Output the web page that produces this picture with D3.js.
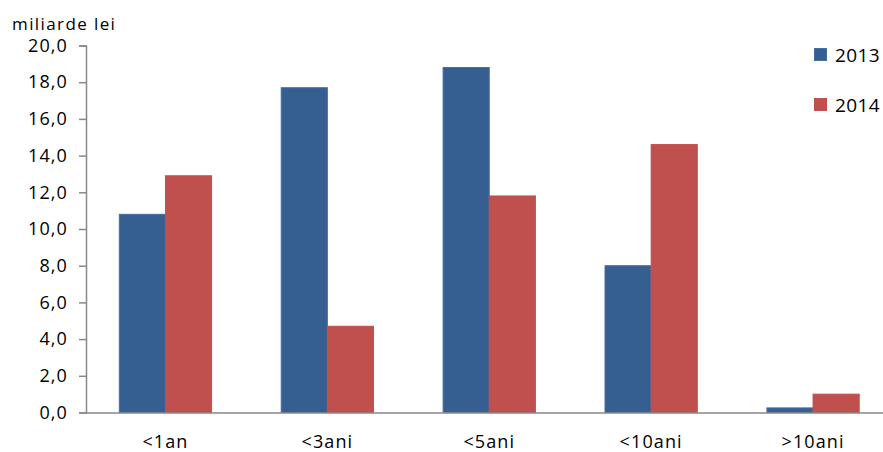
<!DOCTYPE html>
<html>
<head>
<meta charset="utf-8">
<script src="https://cdn.jsdelivr.net/npm/d3@7"></script>
<style>
  body { margin: 0; background: #fff; }
  svg text { font-family: "Open Sans", "Liberation Sans", sans-serif; fill: #000; }
</style>
</head>
<body>
<svg id="chart" width="883" height="452"></svg>
<script>
// Maturity buckets and amounts (billion lei)
const categories = ["<1an", "<3ani", "<5ani", "<10ani", ">10ani"];
const years = ["2013", "2014"];
const values2013 = [10.8, 17.7, 18.8, 8.0, 0.25];
const values2014 = [12.9, 4.7, 11.8, 14.6, 1.0];
const yTicks = [0, 2, 4, 6, 8, 10, 12, 14, 16, 18, 20];
const colors = ["#365F91", "#C0504D"];
const strokeColors = ["#4A6CA6", "#C0504D"];

const svg = d3.select("#chart");
const plotLeft = 86, plotRight = 894, plotTop = 45.5, plotBottom = 412.5;

// group band: two bars of ~46px inside a ~161.6px step
const x0 = d3.scaleBand().domain(categories).range([plotLeft - 1.5, plotRight])
  .paddingInner(0.43).paddingOuter(0.215);
const x1 = d3.scaleBand().domain(years).range([0, x0.bandwidth()]);
const y = d3.scaleLinear().domain([0, 20]).range([plotBottom, plotTop]);

const series = [values2013, values2014];

// bars
categories.forEach((c, i) => {
  years.forEach((yr, j) => {
    const v = series[j][i];
    svg.append("rect")
      .attr("x", x0(c) + x1(yr))
      .attr("y", y(v))
      .attr("width", x1.bandwidth())
      .attr("height", y(0) - y(v))
      .attr("fill", colors[j])
      .attr("stroke", strokeColors[j])
      .attr("stroke-width", 1);
  });
});

// y axis
const yAxis = d3.axisLeft(y).tickValues(yTicks).tickSize(7).tickPadding(11)
  .tickFormat(d => d3.format(".1f")(d).replace(".", ","));
const gy = svg.append("g").attr("transform", `translate(${plotLeft},0)`).call(yAxis);
gy.select(".domain").attr("stroke", "#888").attr("stroke-width", 1.5);
gy.selectAll(".tick line").attr("stroke", "#888").attr("stroke-width", 1.5);
gy.selectAll(".tick text").attr("font-size", 18).attr("letter-spacing", 1.1)
  .attr("font-family", "Open Sans, Liberation Sans, sans-serif").attr("fill", "#000");

// x axis
const xAxis = d3.axisBottom(x0).tickSize(0).tickPadding(23);
const gx = svg.append("g").attr("transform", `translate(0,${plotBottom})`).call(xAxis);
gx.select(".domain").attr("stroke", "#888").attr("stroke-width", 1.5);
gx.selectAll(".tick text").attr("font-size", 18).attr("letter-spacing", 1.1)
  .attr("font-family", "Open Sans, Liberation Sans, sans-serif").attr("fill", "#000");

// unit label
svg.append("text").attr("x", 12).attr("y", 30).attr("font-size", 17).attr("letter-spacing", 1.4).text("miliarde lei");

// legend
const legendTop = [48.5, 98.5];
years.forEach((yr, j) => {
  svg.append("rect").attr("x", 814.5).attr("y", legendTop[j]).attr("width", 12).attr("height", 12)
    .attr("fill", colors[j]).attr("stroke", strokeColors[j]);
  svg.append("text").attr("x", 835).attr("y", legendTop[j] + 13.5).attr("font-size", 19)
    .attr("letter-spacing", 0.4).text(yr);
});
</script>
</body>
</html>
